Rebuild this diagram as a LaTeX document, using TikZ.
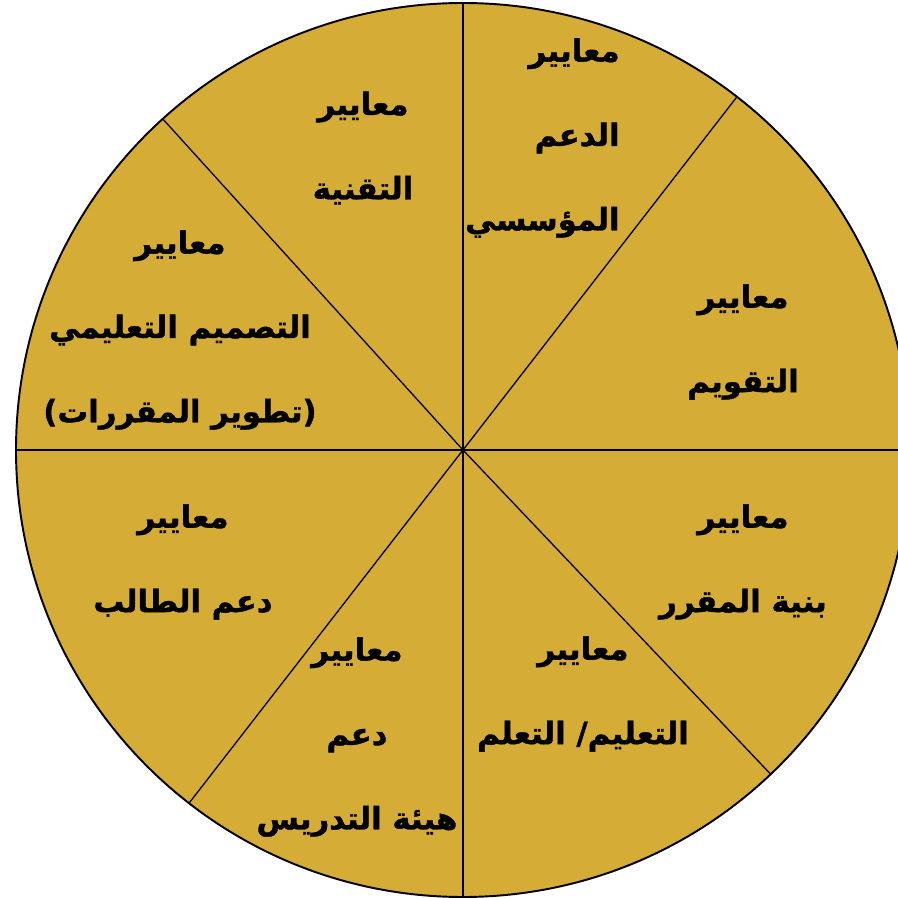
\documentclass[tikz,border=0pt]{standalone}
\usepackage{fontspec}
\newfontfamily\arabicfont[Script=Arabic,BoldFeatures={FakeBold=1.2}]{DejaVu Sans}
\TeXXeTstate=1
\definecolor{wheelgold}{RGB}{212,172,54}

\begin{document}
\begin{tikzpicture}[x=0.02cm,y=0.02cm,
  crit/.style={align=center,inner sep=0pt,
    font=\arabicfont\bfseries\fontsize{17.5}{48}\selectfont},
  spoke/.style={line width=0.75pt}]
  \useasboundingbox (-463,-448) rectangle (435,450);
  \coordinate (c) at (0,0);
  \filldraw[fill=wheelgold,line width=1.1pt] (c) circle[radius=447];
  % rim points of the eight sectors
  \coordinate (rn) at (90:447);
  \coordinate (rs) at (-90:447);
  \coordinate (rw) at (180:447);
  \coordinate (re) at (0:447);
  \coordinate (rne) at (52.2:447);
  \coordinate (rnw) at (132.2:447);
  \coordinate (rse) at (-46.5:447);
  \coordinate (rsw) at (-127.8:447);
  \draw[spoke] (rn) -- (rs);
  \draw[spoke] (rw) -- (re);
  \draw[spoke] (c) -- (rne);
  \draw[spoke] (c) -- (rnw);
  \draw[spoke] (c) -- (rse);
  \draw[spoke] (c) -- (rsw);

  \node[crit,align=right,anchor=east] (inst) at (157,312)
    {\beginR معايير\endR\\\beginR الدعم\endR\\\beginR المؤسسي\endR};
  \node[crit] (tech) at (-100,302)
    {\beginR معايير\endR\\\beginR التقنية\endR};
  \node[crit] (design) at (-283,120)
    {\beginR معايير\endR\\\beginR التصميم التعليمي\endR\\\beginR (تطوير المقررات)\endR};
  \node[crit] (assess) at (280,108)
    {\beginR معايير\endR\\\beginR التقويم\endR};
  \node[crit] (student) at (-280,-112)
    {\beginR معايير\endR\\\beginR دعم الطالب\endR};
  \node[crit] (struct) at (280,-112)
    {\beginR معايير\endR\\\beginR بنية المقرر\endR};
  \node[crit] (teach) at (120,-244)
    {\beginR معايير\endR\\\beginR التعليم/ التعلم\endR};
  \node[crit] (faculty) at (-106,-287)
    {\beginR معايير\endR\\\beginR دعم\endR\\\beginR هيئة التدريس\endR};
\end{tikzpicture}
\end{document}
